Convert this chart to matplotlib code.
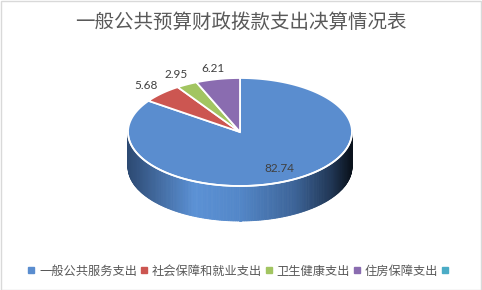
import numpy as np
import matplotlib
matplotlib.use("Agg")
import matplotlib.pyplot as plt
from matplotlib.patches import Polygon, Rectangle
from matplotlib.lines import Line2D
from matplotlib.colors import LinearSegmentedColormap

plt.rcParams['font.family'] = ['Noto Sans CJK SC', 'DejaVu Sans']

title = '一般公共预算财政拨款支出决算情况表'
categories = ['一般公共服务支出', '社会保障和就业支出', '卫生健康支出', '住房保障支出', '']
values = [82.74, 5.68, 2.95, 6.21, 0]
colors = ['#5a8dcf', '#cc5651', '#a2c561', '#8a6cb0', '#4bacc6']

W, H = 482, 290
fig = plt.figure(figsize=(W / 100, H / 100), dpi=100)
ax = fig.add_axes([0, 0, 1, 1])
ax.set_xlim(0, W)
ax.set_ylim(H, 0)
ax.axis('off')

# pie geometry (pixels)
cx, cy, rx, ry, depth = 240, 132, 112, 54, 35

side_cmap = LinearSegmentedColormap.from_list('side', [
    (0.0, '#2d4a73'), (0.3, '#5b91d5'), (0.5, '#5387c8'),
    (0.75, '#3c6397'), (0.92, '#1e3350'), (1.0, '#0a121c')])


def ell(theta, dy=0.0):
    return cx + rx * np.cos(theta), cy - ry * np.sin(theta) + dy


total = sum(values)
start = np.pi / 2
wedges = []
for v, c in zip(values, colors):
    span = v / total * 2 * np.pi
    wedges.append((start - span, start, c, v))
    start -= span

# side wall (front half only)
for a0, a1, c, v in wedges:
    if v == 0:
        continue
    for k in range(-1, 1):
        lo = max(a0, np.pi + 2 * np.pi * k)
        hi = min(a1, 2 * np.pi + 2 * np.pi * k)
        if hi <= lo:
            continue
        ts = np.linspace(lo, hi, 200)
        for t0, t1 in zip(ts[:-1], ts[1:]):
            x0, y0 = ell(t0)
            x1, y1 = ell(t1)
            shade = side_cmap(((cx + rx * np.cos((t0 + t1) / 2)) - (cx - rx)) / (2 * rx))
            ax.add_patch(Polygon([(x0, y0), (x1, y1), (x1, y1 + depth), (x0, y0 + depth)],
                                 closed=True, facecolor=shade, edgecolor=shade, lw=0.6))

# front edge highlight
tt = np.linspace(np.pi, 2 * np.pi, 200)
ax.plot(*ell(tt), color='white', lw=1.2, zorder=3)

# top faces
for a0, a1, c, v in wedges:
    if v == 0:
        continue
    ts = np.linspace(a0, a1, 300)
    xs, ys = ell(ts)
    pts = [(cx, cy)] + list(zip(xs, ys))
    ax.add_patch(Polygon(pts, closed=True, facecolor=c, edgecolor='white', lw=1.3, zorder=2))

# data labels
for a0, a1, c, v in wedges:
    if v == 0:
        continue
    mid = (a0 + a1) / 2
    f = 0.76 if v / total > 0.5 else 1.2
    x, y = cx + f * rx * np.cos(mid), cy - f * ry * np.sin(mid)
    ax.text(x, y, f'{v:.2f}', ha='center', va='center', fontsize=8.5,
            color='#404040', family=['Lato', 'DejaVu Sans'], zorder=5)

ax.text(W / 2, 22, title, ha='center', va='center', fontsize=14, color='#595959')

handles = [Line2D([], [], marker='s', linestyle='', markersize=4.5,
                  markerfacecolor=c, markeredgecolor=c) for c in colors]
fig.legend(handles, categories, loc='center', bbox_to_anchor=(0.5, 1 - 271 / H),
           ncol=5, frameon=False, fontsize=8.8, handlelength=0.4, handletextpad=0.45,
           columnspacing=0.35, labelcolor='#595959', borderaxespad=0)

fig.add_artist(Rectangle((0.5 / W, 0.5 / H), 1 - 1.5 / W, 1 - 1.5 / H,
                         transform=fig.transFigure, fill=False, edgecolor='#d9d9d9', lw=1))

fig.savefig('out.png', dpi=100)
